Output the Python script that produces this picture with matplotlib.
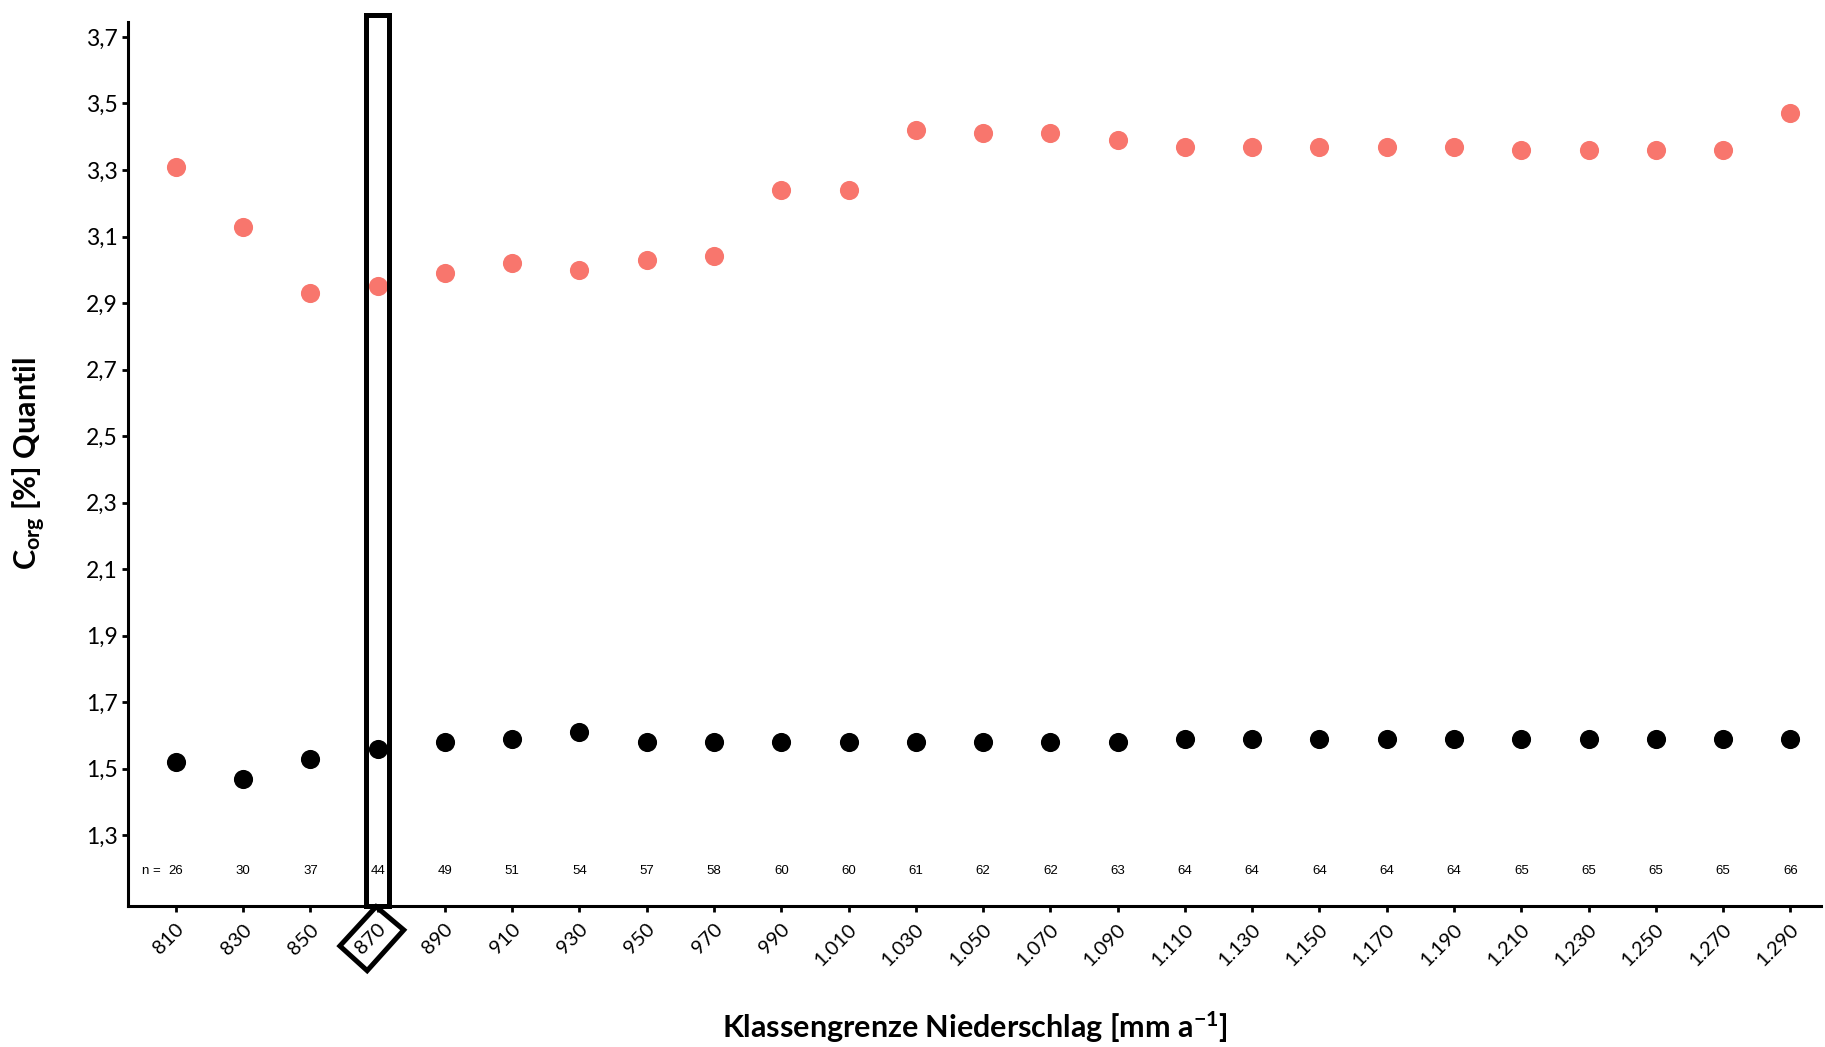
import matplotlib
matplotlib.use("Agg")
import matplotlib.pyplot as plt
from matplotlib.patches import Polygon, Rectangle
from matplotlib.transforms import ScaledTranslation

plt.rcParams['font.family'] = ['Lato', 'DejaVu Sans']
plt.rcParams['mathtext.fontset'] = 'custom'
plt.rcParams['mathtext.rm'] = 'Lato:bold'
plt.rcParams['mathtext.bf'] = 'Lato:bold'
plt.rcParams['mathtext.it'] = 'Lato:bold'

classes = [810, 830, 850, 870, 890, 910, 930, 950, 970, 990, 1010, 1030, 1050,
           1070, 1090, 1110, 1130, 1150, 1170, 1190, 1210, 1230, 1250, 1270, 1290]
class_labels = ["810", "830", "850", "870", "890", "910", "930", "950", "970", "990",
                "1.010", "1.030", "1.050", "1.070", "1.090", "1.110", "1.130", "1.150",
                "1.170", "1.190", "1.210", "1.230", "1.250", "1.270", "1.290"]
upper_quantile = [3.31, 3.13, 2.93, 2.95, 2.99, 3.02, 3.00, 3.03, 3.04, 3.24, 3.24, 3.42, 3.41,
                  3.41, 3.39, 3.37, 3.37, 3.37, 3.37, 3.37, 3.36, 3.36, 3.36, 3.36, 3.47]
lower_quantile = [1.52, 1.47, 1.53, 1.56, 1.58, 1.59, 1.61, 1.58, 1.58, 1.58, 1.58, 1.58, 1.58,
                  1.58, 1.58, 1.59, 1.59, 1.59, 1.59, 1.59, 1.59, 1.59, 1.59, 1.59, 1.59]
n_counts = [26, 30, 37, 44, 49, 51, 54, 57, 58, 60, 60, 61, 62, 62, 63, 64, 64, 64, 64, 64,
            65, 65, 65, 65, 66]
y_ticks = [1.3, 1.5, 1.7, 1.9, 2.1, 2.3, 2.5, 2.7, 2.9, 3.1, 3.3, 3.5, 3.7]
highlight_class = 870

DPI = 100
fig = plt.figure(figsize=(18.25, 10.47), dpi=DPI)
ax = fig.add_axes([0.070, 0.135, 0.928, 0.844])

ax.scatter(classes, upper_quantile, s=190, color='#F8766D', linewidths=0, zorder=3)
ax.scatter(classes, lower_quantile, s=190, color='black', linewidths=0, zorder=3)

ax.set_xlim(795.7, 1299.2)
ax.set_ylim(1.088, 3.745)

ax.set_yticks(y_ticks)
ax.set_yticklabels([f"{v:.1f}".replace('.', ',') for v in y_ticks], fontsize=16.5)
ax.set_xticks(classes)
ax.set_xticklabels(class_labels, fontsize=14.5, rotation=45, ha='right', va='center',
                   rotation_mode='anchor')
ax.tick_params(axis='both', length=4, width=2, color='black', pad=3)
ax.tick_params(axis='x', pad=6.5)

for s in ['top', 'right']:
    ax.spines[s].set_visible(False)
for s in ['left', 'bottom']:
    ax.spines[s].set_linewidth(2.2)

# n labels
n_y = 1.193
for x, n in zip(classes, n_counts):
    ax.text(x, n_y, str(n), ha='center', va='center', fontsize=9.5,
            family=['Liberation Sans', 'DejaVu Sans'])
ax.text(classes[0] - 4.5, n_y, "n =", ha='right', va='center', fontsize=9.5,
        family=['Liberation Sans', 'DejaVu Sans'])

ax.set_xlabel(r"Klassengrenze Niederschlag [mm a$^{-1}$]", fontsize=22,
              fontweight='bold', va='center')
ax.xaxis.set_label_coords(0.5, -0.138)
ax.set_ylabel(r"C$_{org}$ [%] Quantil", fontsize=22, fontweight='bold', va='center')
ax.yaxis.set_label_coords(-0.058, 0.5)

# highlight rectangle around class 870
rect = Rectangle((highlight_class - 3.5, 1.088), 7.0, 3.7675 - 1.088, fill=False,
                 edgecolor='black', linewidth=3.6, clip_on=False, zorder=4)
ax.add_patch(rect)

# place tick labels so that the highlighted label sits centred in its frame
fig.canvas.draw()
renderer = fig.canvas.get_renderer()
x0, y0 = ax.transData.transform((highlight_class, 1.088))
hi_idx = classes.index(highlight_class)
lbl = ax.get_xticklabels()[hi_idx]
bb = lbl.get_window_extent(renderer)
cx, cy = (bb.x0 + bb.x1) / 2, (bb.y0 + bb.y1) / 2
tx, ty = x0 - 7.0, y0 - 33.5
shift = ScaledTranslation((tx - cx) / DPI, (ty - cy) / DPI, fig.dpi_scale_trans)
for t in ax.get_xticklabels():
    t.set_transform(t.get_transform() + shift)

# diamond frame around the tick label
offs = [(-37.8, -40.3), (-1.6, -1.0), (26.1, -24.3), (-10.5, -65.0)]
verts = [(x0 + dx, y0 + dy) for dx, dy in offs]
diamond = Polygon(verts, closed=True, fill=False, edgecolor='black', linewidth=3.6,
                  transform=None, clip_on=False, zorder=5)
fig.patches.append(diamond)
diamond.set_figure(fig)

fig.savefig("out.png", dpi=DPI)
